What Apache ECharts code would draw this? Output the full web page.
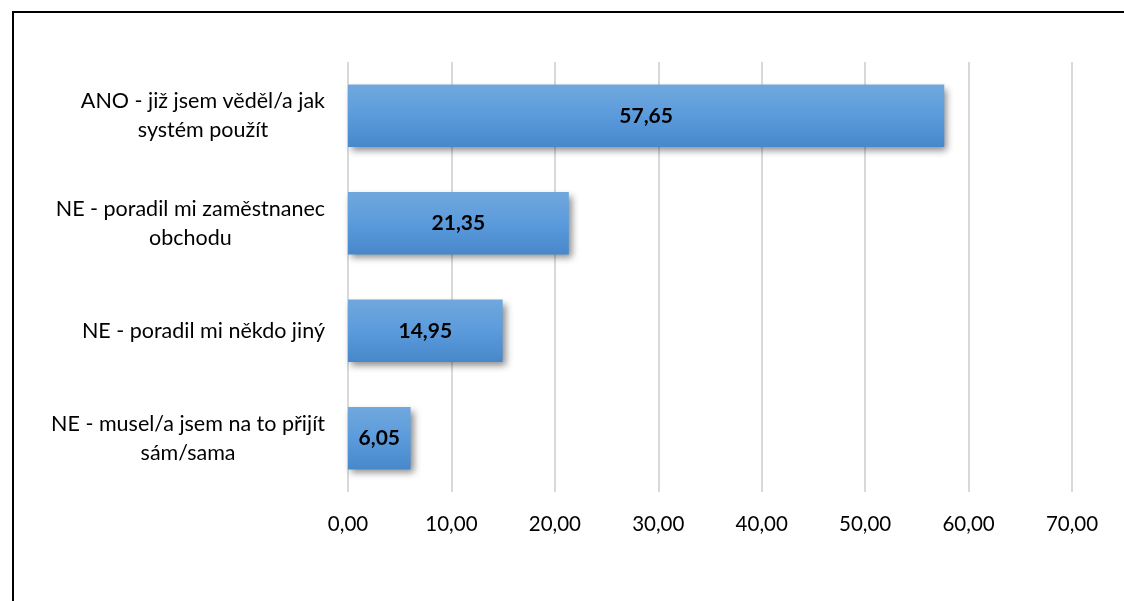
<!DOCTYPE html>
<html>
<head>
<meta charset="utf-8">
<script src="https://cdn.jsdelivr.net/npm/echarts@6/dist/echarts.min.js"></script>
<style>
html,body{margin:0;padding:0;background:#fff;}
#chart{width:1124px;height:601px;}
</style>
</head>
<body>
<div id="chart"></div>
<script>
const categories = [
  "ANO - již jsem věděl/a jak\nsystém použít",
  "NE - poradil mi zaměstnanec\nobchodu",
  "NE - poradil mi někdo jiný",
  "NE - musel/a jsem na to přijít\nsám/sama"
];
const values = [57.65, 21.35, 14.95, 6.05];
const axisMin = 0, axisMax = 70, axisStep = 10;

const fmt = v => Number(v).toFixed(2).replace('.', ',');
const chart = echarts.init(document.getElementById('chart'));
chart.setOption({
  animation: false,
  backgroundColor: '#fff',
  textStyle: { fontFamily: 'Lato' },
  graphic: [{
    type: 'rect', silent: true, z: 100,
    shape: { x: 13, y: 12, width: 1300, height: 800 },
    style: { fill: null, stroke: '#000', lineWidth: 2 }
  }],
  grid: { left: 348, right: 52, top: 62, bottom: 109, containLabel: false },
  xAxis: {
    type: 'value', min: axisMin, max: axisMax, interval: axisStep,
    axisLine: { show: false }, axisTick: { show: false },
    splitLine: { show: true, lineStyle: { color: '#d9d9d9', width: 2 } },
    axisLabel: { formatter: fmt, fontSize: 20.5, color: '#000', margin: 22, fontFamily: 'Lato' }
  },
  yAxis: {
    type: 'category', data: categories, inverse: true,
    axisLine: { show: false }, axisTick: { show: false },
    axisLabel: {
      fontSize: 21.5, color: '#000', margin: 23, lineHeight: 29, fontFamily: 'Lato',
      formatter: v => v.split('\n').map(l => '{c|' + l + '}').join('\n'),
      rich: { c: { align: 'center', fontSize: 21.5, lineHeight: 29, color: '#000', fontFamily: 'Lato' } }
    }
  },
  series: [{
    type: 'bar', data: values, barWidth: '58%',
    itemStyle: {
      color: new echarts.graphic.LinearGradient(0, 0, 0, 1, [
        { offset: 0, color: '#70a8dd' },
        { offset: 0.5, color: '#5b9bdc' },
        { offset: 1, color: '#4788cb' }
      ]),
      shadowColor: 'rgba(0,0,0,0.45)', shadowBlur: 7, shadowOffsetX: 3, shadowOffsetY: 4
    },
    label: {
      show: true, position: 'inside', formatter: p => fmt(p.value),
      fontSize: 21, fontWeight: 'bold', color: '#000', fontFamily: 'Lato'
    }
  }]
});
</script>
</body>
</html>
